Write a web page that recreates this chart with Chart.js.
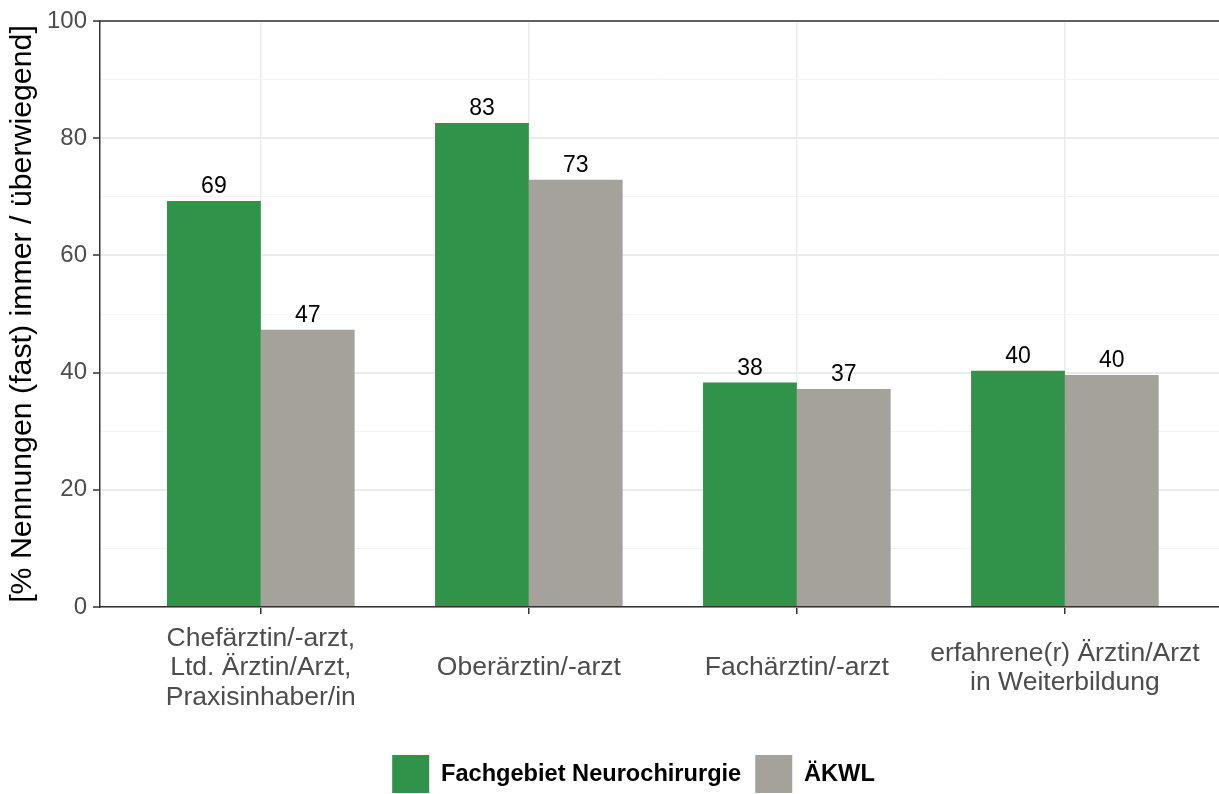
<!DOCTYPE html>
<html>
<head>
<meta charset="utf-8">
<script src="https://cdn.jsdelivr.net/npm/chart.js@4.4.1/dist/chart.umd.min.js"></script>
<style>
  body { margin: 0; background: #fff; }
</style>
</head>
<body>
<canvas id="myChart" width="1219" height="794"></canvas>
<script>
const categories = [
    ['Chefärztin/-arzt,', 'Ltd. Ärztin/Arzt,', 'Praxisinhaber/in'],
    ['Oberärztin/-arzt'],
    ['Fachärztin/-arzt'],
    ['erfahrene(r) Ärztin/Arzt', 'in Weiterbildung']
];
const neuroData = [69.3, 82.6, 38.3, 40.3];
const akwlData = [47.3, 72.9, 37.2, 39.6];
const yTicks = [0, 20, 40, 60, 80, 100];

const FONT = "'Liberation Sans', Arial, sans-serif";
const GREEN = 'rgb(49, 146, 73)';
const GREY = 'rgb(165, 162, 155)';

const positions = categories.map((c, i) => i);

// values above the bars
const valueLabels = {
    id: 'valueLabels',
    afterDatasetsDraw(chart) {
        const ctx = chart.ctx;
        ctx.save();
        ctx.font = '23px ' + FONT;
        ctx.fillStyle = '#000';
        ctx.textAlign = 'center';
        ctx.textBaseline = 'alphabetic';
        chart.data.datasets.forEach((ds, d) => {
            chart.getDatasetMeta(d).data.forEach((bar, i) => {
                ctx.fillText(Math.round(ds.data[i].y), bar.x, bar.y - 8);
            });
        });
        ctx.restore();
    }
};

// top border of the panel + legend placement
const panelFrame = {
    id: 'panelFrame',
    afterLayout(chart) {
        chart.legend.left += 48;
        chart.legend.top += 9;
    },
    afterDraw(chart) {
        const a = chart.chartArea;
        const ctx = chart.ctx;
        ctx.save();
        ctx.strokeStyle = '#333';
        ctx.lineWidth = 1.5;
        ctx.beginPath();
        ctx.moveTo(a.left, a.top);
        ctx.lineTo(a.right, a.top);
        ctx.stroke();
        ctx.restore();
    }
};

const ctx = document.getElementById('myChart').getContext('2d');
const myChart = new Chart(ctx, {
    type: 'bar',
    data: {
        datasets: [
            {
                label: 'Fachgebiet Neurochirurgie',
                data: neuroData.map((v, i) => ({ x: positions[i], y: v })),
                backgroundColor: GREEN,
                borderWidth: 0
            },
            {
                label: 'ÄKWL',
                data: akwlData.map((v, i) => ({ x: positions[i], y: v })),
                backgroundColor: GREY,
                borderWidth: 0
            }
        ]
    },
    options: {
        responsive: false,
        animation: false,
        devicePixelRatio: 1,
        categoryPercentage: 0.7,
        barPercentage: 1.0,
        layout: { padding: { top: 21, right: 0, left: 0, bottom: 0 } },
        plugins: {
            legend: {
                position: 'bottom',
                labels: {
                    boxWidth: 37,
                    boxHeight: 38,
                    padding: 14,
                    color: '#000',
                    font: { family: FONT, size: 23.6, weight: 'bold' }
                }
            },
            tooltip: { enabled: false }
        },
        scales: {
            x: {
                type: 'linear',
                offset: false,
                min: -0.6,
                max: 3.575,
                afterBuildTicks: s => { s.ticks = positions.map(p => ({ value: p })); },
                afterFit: s => {
                    s.height = 125;
                    s.paddingLeft = 0;
                    s.paddingRight = 0;
                },
                grid: {
                    offset: false,
                    color: '#ebebeb',
                    lineWidth: 1.5,
                    tickColor: '#333',
                    tickLength: 7,
                    tickWidth: 1.5
                },
                border: { color: '#333', width: 1.5 },
                ticks: {
                    autoSkip: false,
                    maxRotation: 0,
                    padding: 25,
                    crossAlign: 'center',
                    color: '#4d4d4d',
                    font: { family: FONT, size: 26.5, lineHeight: 1.1 },
                    callback: v => categories[v]
                }
            },
            y: {
                min: 0,
                max: 100,
                afterFit: s => { s.width = 100; },
                grid: {
                    color: c => c.tick.value % 20 ? '#f3f3f3' : '#ebebeb',
                    lineWidth: c => c.tick.value % 20 ? 1 : 2,
                    tickColor: c => c.tick.value % 20 ? 'rgba(0,0,0,0)' : '#333',
                    tickLength: 7,
                    tickWidth: 1.5
                },
                border: { color: '#333', width: 1.5 },
                ticks: {
                    stepSize: 10,
                    padding: 6,
                    color: '#4d4d4d',
                    font: { family: FONT, size: 24 },
                    callback: v => yTicks.includes(v) ? v : ''
                },
                title: {
                    display: true,
                    text: '[% Nennungen (fast) immer / überwiegend]',
                    color: '#000',
                    padding: { top: 4, bottom: 0 },
                    font: { family: FONT, size: 30.3 }
                }
            }
        }
    },
    plugins: [valueLabels, panelFrame]
});
</script>
</body>
</html>
